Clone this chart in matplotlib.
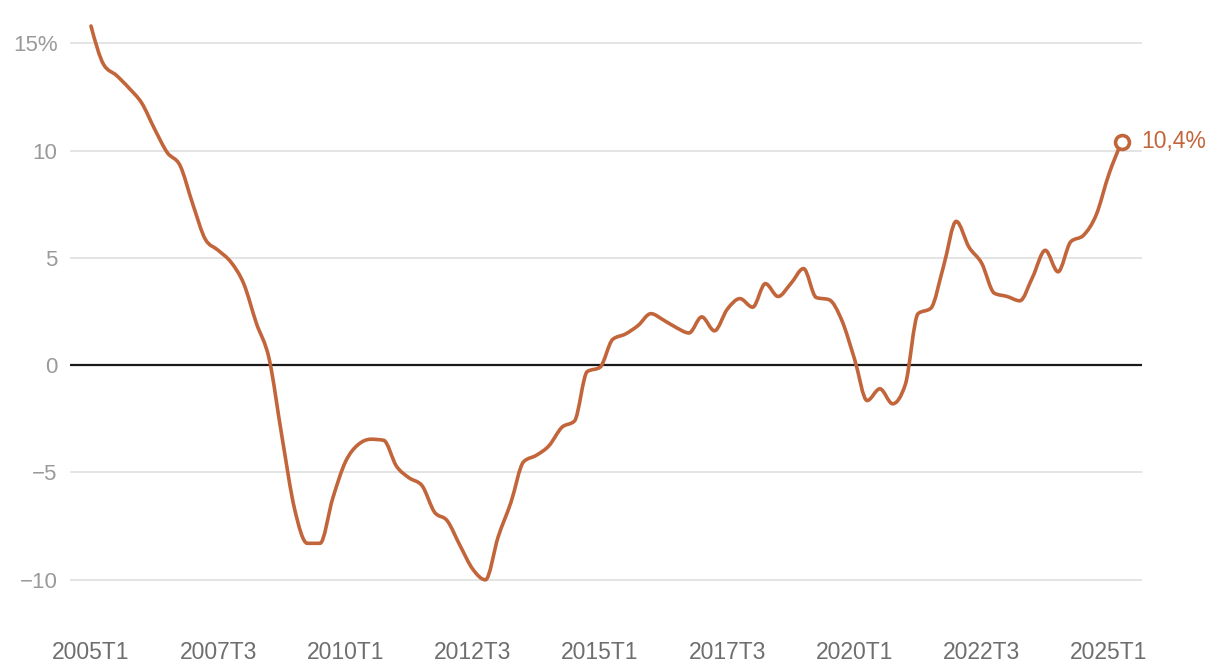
import matplotlib.pyplot as plt
import numpy as np
from matplotlib.path import Path
from matplotlib.patches import PathPatch

plt.rcParams['font.family'] = ['Liberation Sans', 'DejaVu Sans']

# trimestres 2005T1 .. 2025T2
trimestres = [f"{a}T{t}" for a in range(2005, 2026) for t in range(1, 5)][:82]
valores = [15.8, 14.0, 13.5, 12.9, 12.2, 11.0, 9.9, 9.3, 7.5, 5.85,
           5.35, 4.8, 3.8, 1.95, 0.3, -3.3, -6.7, -8.3, -8.3, -6.2,
           -4.5, -3.7, -3.45, -3.5, -4.7, -5.25, -5.6, -6.85, -7.25, -8.4,
           -9.5, -10.0, -8.0, -6.4, -4.5, -4.2, -3.75, -2.9, -2.6, -0.3,
           -0.1, 1.2, 1.45, 1.85, 2.4, 2.1, 1.75, 1.5, 2.25, 1.6,
           2.6, 3.1, 2.7, 3.8, 3.2, 3.8, 4.5, 3.15, 3.05, 2.1,
           0.3, -1.65, -1.1, -1.8, -0.9, 2.4, 2.65, 4.6, 6.7, 5.5,
           4.75, 3.35, 3.2, 3.0, 4.1, 5.35, 4.35, 5.75, 6.05, 7.0,
           8.9, 10.4]
ticks_x = ["2005T1", "2007T3", "2010T1", "2012T3", "2015T1",
           "2017T3", "2020T1", "2022T3", "2025T1"]
ticks_y = [-10, -5, 0, 5, 10, 15]
labels_y = ["\u221210", "\u22125", "0", "5", "10", "15%"]

COR = "#c2653b"


def curva_monotona(x, y):
    """Caminho Bezier tipo monotoneX (como o d3) a partir dos pontos."""
    x = np.asarray(x, float)
    y = np.asarray(y, float)
    h = np.diff(x)
    s = np.diff(y) / h
    t = np.zeros_like(y)
    for i in range(1, len(y) - 1):
        s0, s1 = s[i - 1], s[i]
        p = (s0 * h[i] + s1 * h[i - 1]) / (h[i - 1] + h[i])
        t[i] = (np.sign(s0) + np.sign(s1)) * min(abs(s0), abs(s1), 0.5 * abs(p))
    t[0] = (3 * s[0] - t[1]) / 2
    t[-1] = (3 * s[-1] - t[-2]) / 2
    verts = [(x[0], y[0])]
    codes = [Path.MOVETO]
    for i in range(len(y) - 1):
        dx = h[i] / 3
        verts += [(x[i] + dx, y[i] + dx * t[i]),
                  (x[i + 1] - dx, y[i + 1] - dx * t[i + 1]),
                  (x[i + 1], y[i + 1])]
        codes += [Path.CURVE4] * 3
    return Path(verts, codes)


x = np.arange(len(valores))

fig = plt.figure(figsize=(12.2, 6.68), dpi=100)
ax = fig.add_axes([70 / 1220, 56 / 668, 1072 / 1220, 601 / 668])
ax.set_xlim(-1.65, 82.6)
ax.set_ylim(-11.5, 16.5)

for s in ax.spines.values():
    s.set_visible(False)

ax.set_yticks(ticks_y)
ax.set_yticklabels(labels_y)
ax.set_xticks([trimestres.index(t) for t in ticks_x])
ax.set_xticklabels(ticks_x)
ax.tick_params(axis='y', length=0, pad=9, labelsize=16, labelcolor='#9a9a9a')
ax.tick_params(axis='x', length=0, pad=21, labelsize=16.5, labelcolor='#6e6e6e')
ax.grid(axis='y', color='#e2e2e2', linewidth=1.3)
ax.set_axisbelow(True)
ax.axhline(0, color='#1a1a1a', linewidth=1.6, zorder=2)

ax.add_patch(PathPatch(curva_monotona(x, valores), facecolor='none',
                       edgecolor=COR, linewidth=2.6, capstyle='round',
                       joinstyle='round', zorder=3))
ax.plot(x[-1], valores[-1], 'o', ms=10, mfc='white', mec=COR, mew=2.6,
        zorder=4, clip_on=False)
ax.annotate(f"{valores[-1]:.1f}%".replace('.', ','), (x[-1], valores[-1]),
            xytext=(14, 0), textcoords='offset points', ha='left',
            va='center', fontsize=16.5, color=COR, annotation_clip=False)

fig.savefig('out.png', dpi=100)
